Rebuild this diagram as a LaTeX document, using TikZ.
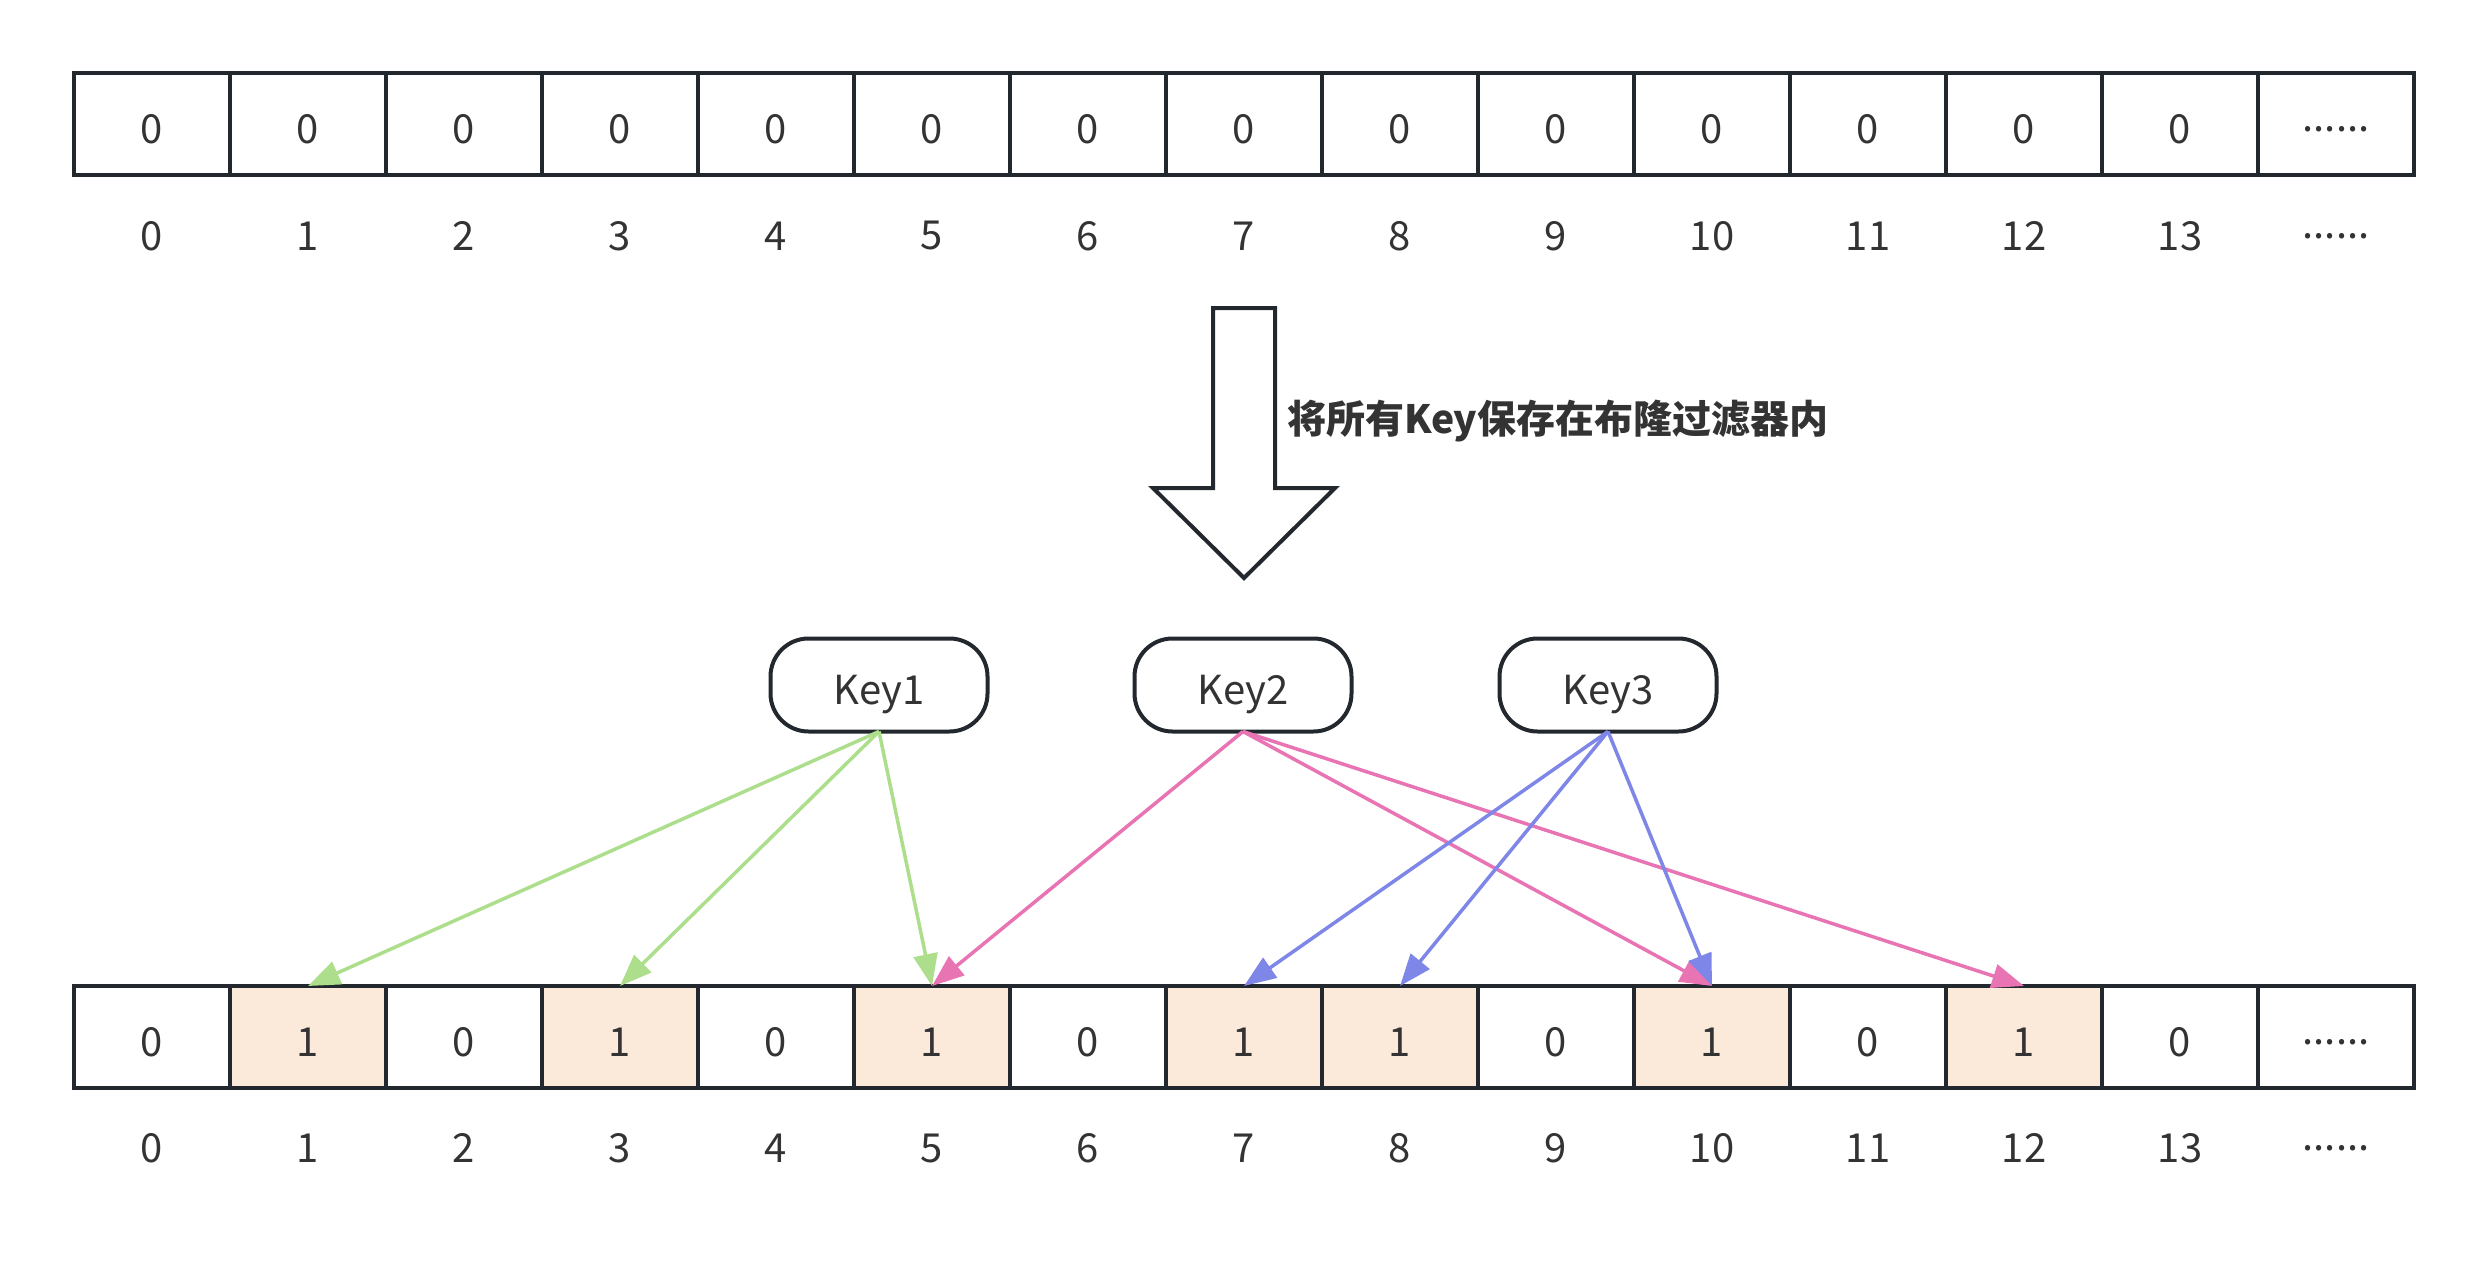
\documentclass[tikz,border=0pt]{standalone}
\usepackage{fontspec}
\setmainfont{Noto Sans CJK SC}
\usetikzlibrary{arrows.meta}
\definecolor{bord}{RGB}{34,40,46}
\definecolor{txt}{RGB}{51,51,51}
\definecolor{peach}{RGB}{251,233,218}
\definecolor{gr}{RGB}{172,222,140}
\definecolor{pk}{RGB}{232,116,180}
\definecolor{bl}{RGB}{126,134,232}
\newcommand\lowtxt[1]{\raisebox{-5pt}[\height][0pt]{#1}}
\tikzset{
  cell/.style={draw=bord, line width=4pt, minimum width=156pt, minimum height=102pt, inner sep=0pt, outer sep=0pt, text=txt, font=\fontsize{40}{48}\selectfont},
  oncell/.style={cell, fill=peach},
  idx/.style={text=txt, inner sep=0pt, font=\fontsize{40}{48}\selectfont},
  keybox/.style={draw=bord, line width=4pt, rounded corners=38pt, minimum width=217pt, minimum height=93pt, inner sep=0pt, outer sep=0pt, text=txt, font=\fontsize{40}{48}\selectfont},
  link/.style={line width=3.5pt, -{Triangle[length=32pt,width=24pt]}},
}
\begin{document}
\begin{tikzpicture}[x=1pt,y=-1pt]
\useasboundingbox (0,0) rectangle (2488,1281);
% top array
\foreach \i in {0,...,13}{
  \node[cell] (t\i) at ({152+156*\i},124) {\lowtxt{0}};
  \node[idx] (ti\i) at ({152+156*\i},236) {\i};
}
\node[cell] (t14) at ({152+156*14},124) {\lowtxt{......}};
\node[idx] (ti14) at ({152+156*14},236) {......};
% big arrow
\draw[bord, line width=4pt, line join=miter, fill=white]
  (1213,308) -- (1275,308) -- (1275,488) -- (1335,488) -- (1244,578) -- (1153,488) -- (1213,488) -- cycle;
\node[anchor=west, text=txt, inner sep=0pt, font=\fontsize{39}{46}\selectfont\bfseries] (lab) at (1287,421) {将所有Key保存在布隆过滤器内};
% bottom array
\foreach \i/\v in {0/0,2/0,4/0,6/0,9/0,11/0,13/0}{
  \node[cell] (b\i) at ({152+156*\i},1037) {\lowtxt{\v}};
}
\foreach \i/\v in {1/1,3/1,5/1,7/1,8/1,10/1,12/1}{
  \node[oncell] (b\i) at ({152+156*\i},1037) {\lowtxt{\v}};
}
\node[cell] (b14) at ({152+156*14},1037) {\lowtxt{......}};
\foreach \i in {0,...,13}{
  \node[idx] (bi\i) at ({152+156*\i},1148) {\i};
}
\node[idx] (bi14) at ({152+156*14},1148) {......};
% keys
\node[keybox] (k1) at (879,685) {\lowtxt{Key1}};
\node[keybox] (k2) at (1243,685) {\lowtxt{Key2}};
\node[keybox] (k3) at (1608,685) {\lowtxt{Key3}};
% links
\draw[link, gr] (k1.south) -- (b1.north);
\draw[link, gr] (k1.south) -- (b3.north);
\draw[link, gr] (k1.south) -- (b5.north);
\draw[link, pk] (k2.south) -- (b5.north);
\draw[link, pk] (k2.south) -- (b10.north);
\draw[link, pk] (k2.south) -- (b12.north);
\draw[link, bl] (k3.south) -- (b7.north);
\draw[link, bl] (k3.south) -- (b8.north);
\draw[link, bl] (k3.south) -- (b10.north);
\end{tikzpicture}
\end{document}
